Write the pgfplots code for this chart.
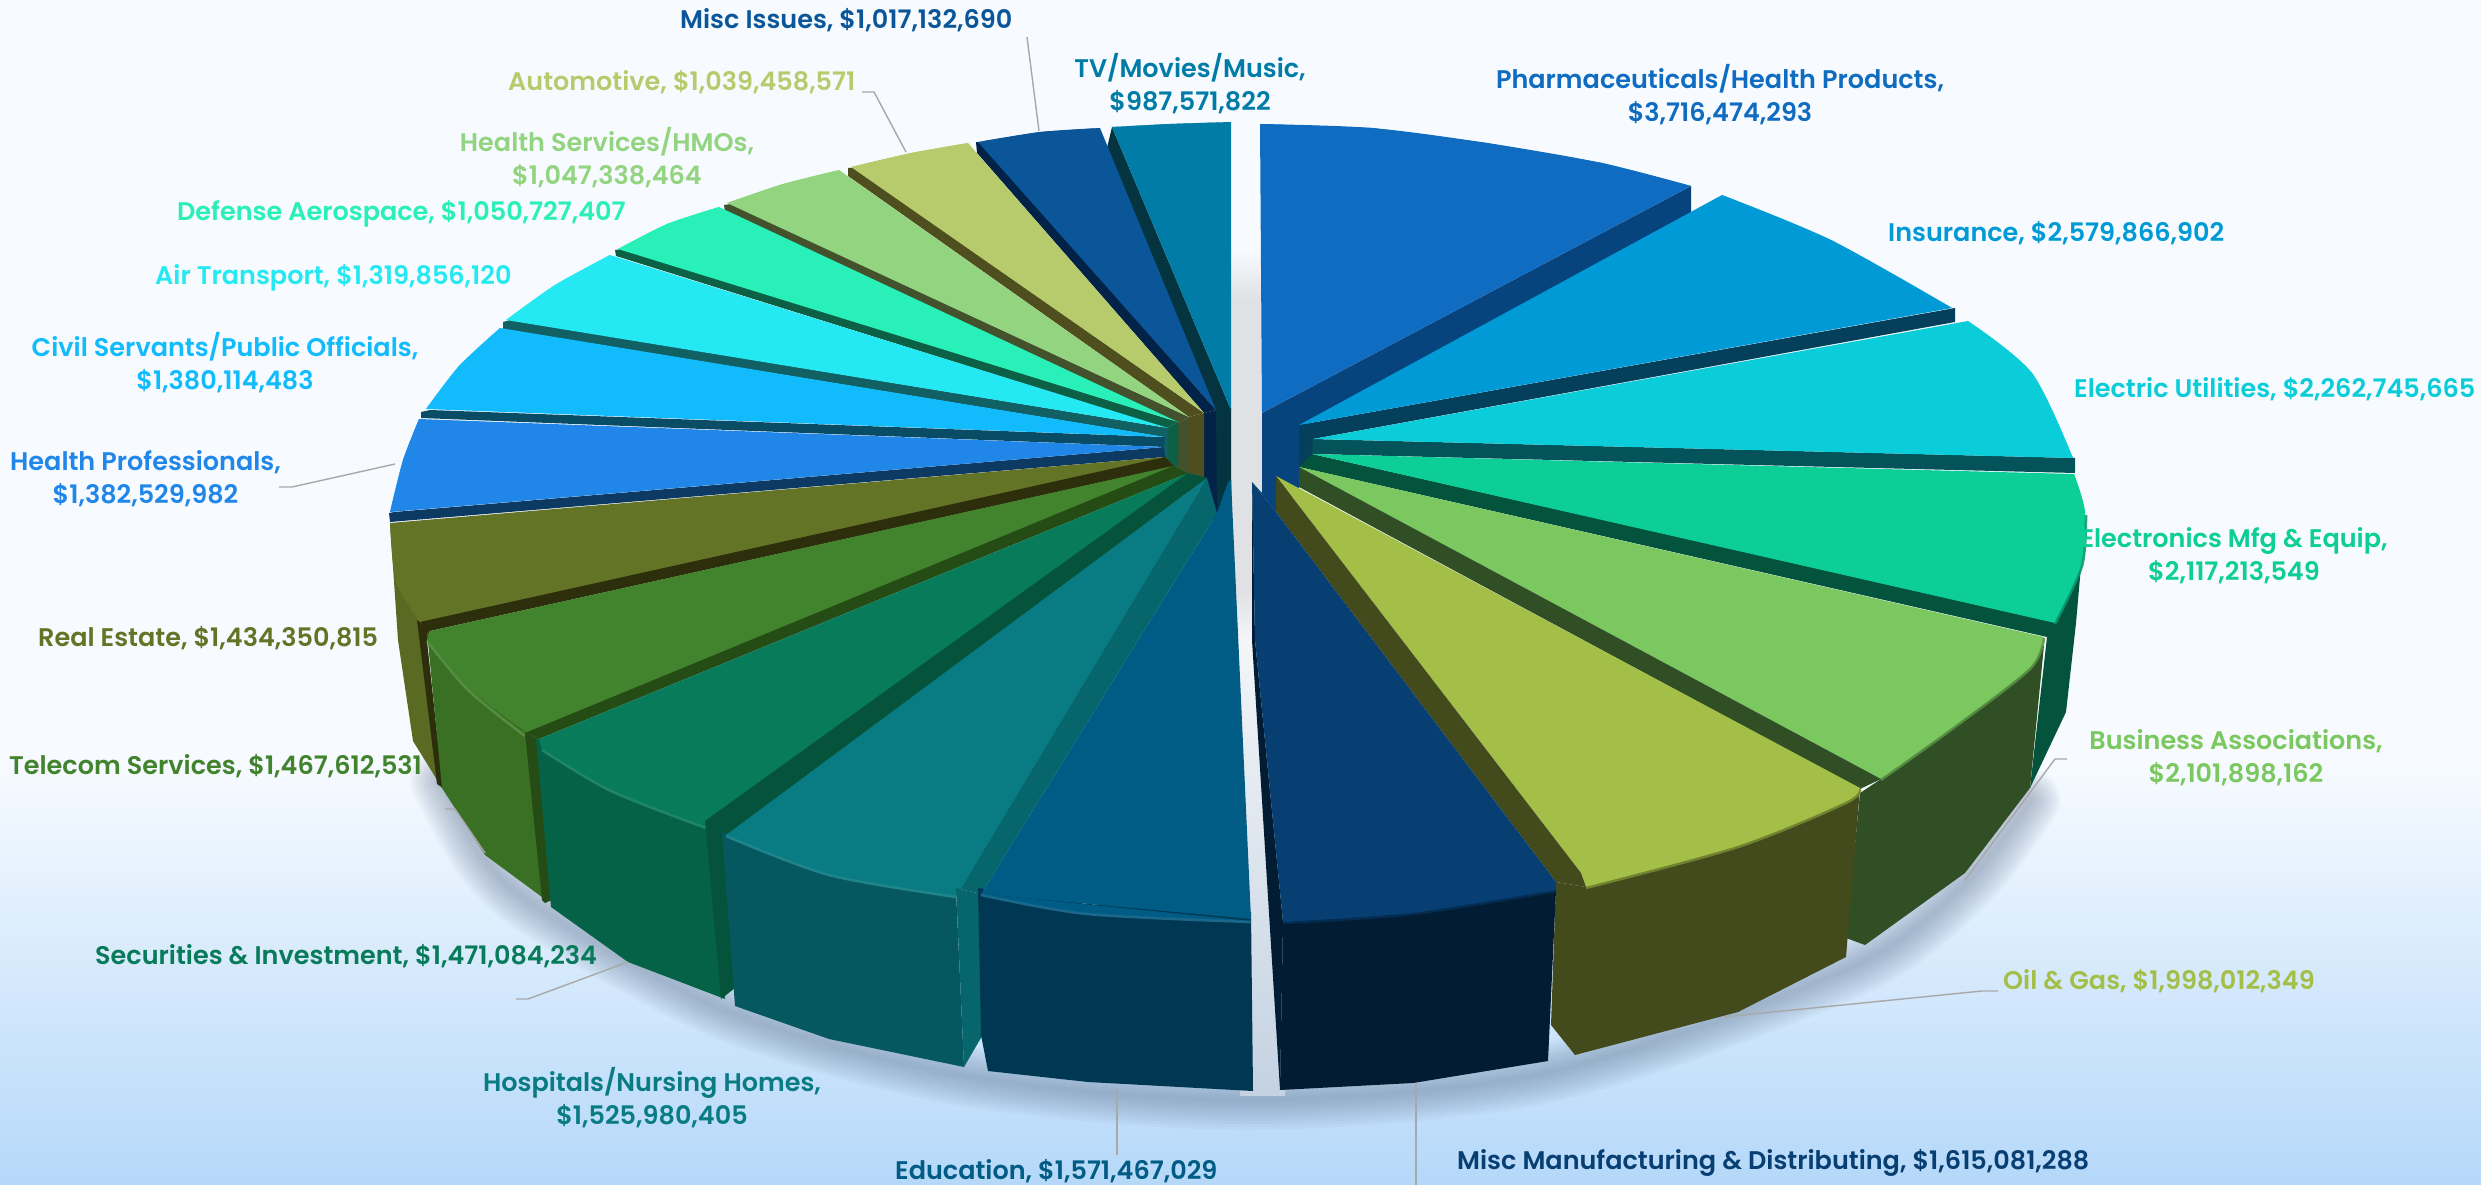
\documentclass[border=0pt]{standalone}
\usepackage{fontspec}
\usepackage{pgfplots}
\pgfplotsset{compat=1.18}
\setmainfont{Poppins}[BoldFont={Poppins SemiBold}]
% face colours
\definecolor{pharma}{HTML}{0F6CC1}\definecolor{insur}{HTML}{009AD6}\definecolor{elec}{HTML}{0BCCD9}
\definecolor{emfg}{HTML}{0ECE97}\definecolor{busi}{HTML}{7AC85F}\definecolor{oil}{HTML}{A4BF48}
\definecolor{mfg}{HTML}{083F73}\definecolor{edu}{HTML}{005C84}\definecolor{hosp}{HTML}{097B83}
\definecolor{secu}{HTML}{077B5A}\definecolor{tele}{HTML}{42832E}\definecolor{real}{HTML}{647427}
\definecolor{hpro}{HTML}{2087E9}\definecolor{civil}{HTML}{12BBFC}\definecolor{air}{HTML}{24E9F2}
\definecolor{defe}{HTML}{29EFB8}\definecolor{hserv}{HTML}{93D480}\definecolor{auto}{HTML}{B7CB6D}
\definecolor{misc}{HTML}{0B5698}\definecolor{tv}{HTML}{007CA7}
% side colours
\definecolor{spharma}{HTML}{07437C}\definecolor{sinsur}{HTML}{04405C}\definecolor{selec}{HTML}{04535A}
\definecolor{semfg}{HTML}{04533C}\definecolor{sbusi}{HTML}{304F24}\definecolor{soil}{HTML}{434B1C}
\definecolor{smfg}{HTML}{021C33}\definecolor{sedu}{HTML}{003853}\definecolor{shosp}{HTML}{055860}
\definecolor{shospb}{HTML}{07666B}\definecolor{ssecu}{HTML}{066247}\definecolor{ssecub}{HTML}{05533A}
\definecolor{stele}{HTML}{3A7024}\definecolor{steleb}{HTML}{264C16}\definecolor{sreal}{HTML}{5A6A22}
\definecolor{srealb}{HTML}{2D2F0C}\definecolor{shpro}{HTML}{0C3A62}\definecolor{scivil}{HTML}{084C66}
\definecolor{sair}{HTML}{116064}\definecolor{sdefe}{HTML}{0B6045}\definecolor{shserv}{HTML}{43522C}
\definecolor{sauto}{HTML}{4E4E1E}\definecolor{smisc}{HTML}{022347}\definecolor{stv}{HTML}{03343F}
\definecolor{leader}{HTML}{A8A8A8}
\definecolor{bgtop}{HTML}{F7FBFF}\definecolor{bgbot}{HTML}{B5D8F9}
\definecolor{gapa}{HTML}{DFE1E4}\definecolor{gapb}{HTML}{F3F5F8}\definecolor{gapc}{HTML}{C4D2E2}
% a flat polygon
\newcommand\poly[2]{\addplot[fill=#1,draw=none] coordinates {#2};}
% a slice top: straight part plus a smooth cap along the rim
\newcommand\face[3]{\addplot[fill=#1,draw=none] coordinates {#2 #3};\addplot[fill=#1,draw=none,smooth] coordinates {#3};}
% a soft edge along a rim
\newcommand\rim[2]{\addplot[draw=#1,line width=2.5pt,smooth,opacity=.85] coordinates {#2};}
\newcommand\leadline[1]{\addplot[draw=leader,line width=1.4pt] coordinates {#1};}
\newcommand\lab[4]{\node[text=#1,anchor=#2,align=center,inner sep=0pt,font=\fontsize{25.5}{33}\selectfont\bfseries] at (axis cs:#3) {#4};}
\begin{document}
\begin{tikzpicture}
\begin{axis}[
  width=2481pt,height=1185pt,scale only axis,
  xmin=0,xmax=2481,ymin=0,ymax=1185,y dir=reverse,
  hide axis,clip=true]
% backdrop
\fill[color=bgtop] (axis cs:0,0) rectangle (axis cs:2481,761);
\fill[top color=bgtop,bottom color=bgbot] (axis cs:0,760) rectangle (axis cs:2481,1185);
% soft shadow under the pie
\pgfplotsinvokeforeach{6,12,18,24,30,36,42,48,54,60}{
 \addplot[draw={rgb,255:red,95;green,115;blue,145},line width=#1pt,opacity=.05,smooth,line cap=round] coordinates {(440,780)(485,860)(545,912)(730,1012)(964,1076)(1250,1100)(1550,1072)(1850,968)(1965,884)(2030,800)};
}
% gap between the first and last slices
\fill[top color=bgtop,bottom color=gapa] (axis cs:1231,250) rectangle (axis cs:1262,300);
\fill[color=gapa] (axis cs:1231,299) rectangle (axis cs:1262,591);
\fill[top color=gapa,bottom color=gapb] (axis cs:1235,590) rectangle (axis cs:1262,640);
\fill[top color=gapb,bottom color=gapc] (axis cs:1240,639) rectangle (axis cs:1285,1095);
% inner walls at the hub
\poly{stv}{(1216,410)(1231,408)(1231,520)(1216,520)}
\poly{smisc}{(1204,413)(1216,410)(1217,520)(1204,520)}
\poly{sauto}{(1189,417)(1204,413)(1204,490)(1189,490)}
\poly{shserv}{(1178,423)(1189,417)(1189,480)(1178,480)}
\poly{sdefe}{(1166,428)(1178,422)(1178,475)(1166,475)}
\poly{sair}{(1164,436)(1168,428)(1168,470)(1164,470)}
% back slices
\poly{stv}{(1112,127)(1107,148)(1216,412)(1231,410)}
\face{tv}{(1231,410)}{(1112,127)(1170,124)(1231,122)}
\poly{smisc}{(976,142)(982,143)(1216,410)(1204,413)(977,153)}
\face{misc}{(1216,410)}{(978,142)(1040,132)(1100,128)}
\poly{sauto}{(848,168)(855,168)(1204,413)(1189,417)(848,176)}
\face{auto}{(1204,413)}{(851,167)(911,153)(968,143)}
\poly{shserv}{(724,205)(731,204)(1189,417)(1178,423)(725,212)}
\face{hserv}{(1189,417)}{(727,203)(783,184)(839,170)}
\poly{sdefe}{(615,250)(622,249)(1178,422)(1166,428)(616,256)}
\face{defe}{(1178,422)}{(618,249)(667,224)(719,207)}
\poly{sair}{(503,322)(510,320)(1168,428)(1164,437)(503,329)}
\face{air}{(1168,428)}{(506,320)(555,285)(610,255)}
\poly{scivil}{(421,412)(430,410)(1165,437)(1164,447)(421,418)}
\face{civil}{(1165,437)}{(426,409)(459,366)(500,328)}
\poly{shpro}{(389,513)(394,512)(1164,447)(1165,457)(390,522)}
\face{hpro}{(1164,447)}{(390,512)(403,460)(419,419)}
% front left slices, walls first
\poly{sreal}{(390,523)(396,582)(420,622)(427,641)(442,788)(413,741)(398,640)}
\face{real}{(1165,457)(1174,466)(428,631)}{(420,622)(396,582)(390,523)}
\poly{srealb}{(1165,457)(1174,466)(430,631)(420,622)}
\poly{srealb}{(417,620)(430,630)(427,642)(443,788)(437,784)}
\poly{stele}{(427,632)(468,680)(530,726)(546,900)(485,855)(442,788)}
\face{tele}{(430,631)(1173,466)(1188,473)(530,735)}{(525,731)(468,688)(427,639)}
\rim{tele!88!white}{(427,641)(468,690)(525,736)}
\poly{steleb}{(1173,466)(1188,473)(539,739)(525,733)}
\poly{steleb}{(525,733)(539,739)(552,900)(545,903)(542,900)}
\poly{ssecu}{(536,738)(611,782)(712,820)(725,999)(628,962)(551,907)}
\face{secu}{(539,739)(1188,473)(1207,478)(712,825)}{(706,827)(611,790)(542,749)}
\rim{secu!88!white}{(542,750)(611,791)(706,828)}
\poly{ssecub}{(1188,473)(1207,478)(727,838)(705,821)}
\poly{ssecub}{(705,821)(727,831)(735,988)(721,999)}
\poly{shosp}{(722,832)(829,865)(956,890)(964,1067)(829,1039)(735,1006)}
\poly{stv}{(1217,513)(1231,480)(1231,520)}
\poly{shospb}{(1207,478)(1217,513)(981,894)(956,888)}
\face{hosp}{(1207,478)(960,890)}{(956,896)(829,874)(726,835)}
\rim{hosp!88!white}{(956,897)(829,875)(726,836)}
\poly{shospb}{(956,888)(981,894)(985,1031)(964,1067)}
\poly{sedu}{(978,888)(1087,904)(1251,912)(1253,1091)(1088,1082)(988,1071)(981,1035)}
\poly{edu}{(1217,513)(1228,482)(1231,480)(1251,919)(981,894)}
\face{edu}{}{(1251,921)(1087,913)(981,894)}
\rim{edu!88!white}{(1251,922)(1087,914)(981,895)}
% right side, back to front
\poly{spharma}{(1691,186)(1691,213)(1299,428)(1299,490)(1276,512)(1262,495)(1252,482)(1262,493)(1262,413)}
\face{pharma}{(1262,413)(1260,124)}{(1260,124)(1372,128)(1487,143)(1602,163)(1691,186)}
\poly{sinsur}{(1299,425)(1955,308)(1955,322)(1313,439)(1313,467)(1299,467)}
\face{insur}{(1299,425)}{(1722,195)(1831,240)(1952,308)}
\poly{selec}{(1313,439)(2075,458)(2075,473)(1312,454)}
\face{elec}{(1313,439)}{(1968,321)(2032,373)(2073,458)}
\poly{semfg}{(1299,467)(1312,454)(2052,621)(2082,565)(2085,520)(2076,623)(2066,712)(2030,788)(2047,637)}
\face{emfg}{(1312,454)}{(2055,623)(2082,565)(2085,512)(2074,474)}
\rim{emfg!55!semfg}{(2055,624)(2082,566)(2086,515)}
\poly{sbusi}{(2044,645)(2030,788)(1965,873)(1865,945)(1846,938)(1860,793)(1881,779)}
\face{busi}{(1299,467)}{(1881,779)(1955,726)(2030,668)(2044,637)}
\rim{busi!55!sbusi}{(1881,780)(1955,727)(2030,669)(2044,638)}
\poly{sbusi}{(1299,467)(1881,779)(1860,789)(1299,487)}
\poly{soil}{(1860,788)(1846,957)(1738,1012)(1575,1055)(1551,1025)(1556,882)(1586,887)}
\face{oil}{(1276,476)(1581,873)}{(1586,887)(1738,846)(1846,802)(1860,788)}
\rim{oil!55!soil}{(1586,888)(1738,847)(1846,803)(1860,789)}
\poly{soil}{(1276,476)(1581,873)(1586,887)(1556,882)(1276,512)}
\poly{smfg}{(1283,922)(1413,913)(1556,890)(1548,1061)(1413,1083)(1280,1090)}
\poly{smfg}{(1252,482)(1252,640)(1280,1090)(1283,922)(1255,640)}
\poly{mfg}{(1252,482)(1262,495)(1276,512)(1556,882)(1556,890)(1413,913)(1283,922)(1255,640)}
\face{mfg}{}{(1556,890)(1413,913)(1283,922)}
\rim{mfg!55!smfg}{(1556,891)(1413,914)(1283,923)}
% leader lines
\leadline{(1027,37)(1039,131)}
\leadline{(862,92)(874,92)(906,152)}
\leadline{(279,487)(292,487)(395,464)}
\leadline{(2067,759)(2055,759)(1965,880)}
\leadline{(1998,991)(1982,991)(1723,1017)}
\leadline{(1416,1083)(1416,1185)}
\leadline{(1117,1089)(1117,1155)}
\leadline{(628,962)(528,999)(516,999)}
\leadline{(445,809)(455,809)(485,853)}
% labels
\lab{misc}{west}{680,20}{Misc Issues, \$1,017,132,690}
\lab{tv}{center}{1190,84}{TV/Movies/Music,\\\$987,571,822}
\lab{pharma}{center}{1720,95}{Pharmaceuticals/Health Products,\\\$3,716,474,293}
\lab{insur}{west}{1888,233}{Insurance, \$2,579,866,902}
\lab{elec}{west}{2074,389}{Electric Utilities, \$2,262,745,665}
\lab{emfg}{center}{2234,556}{Electronics Mfg \& Equip,\\\$2,117,213,549}
\lab{busi}{center}{2236,758}{Business Associations,\\\$2,101,898,162}
\lab{oil}{west}{2003,981}{Oil \& Gas, \$1,998,012,349}
\lab{mfg}{west}{1457,1163}{Misc Manufacturing \& Distributing, \$1,615,081,288}
\lab{edu}{west}{895,1171}{Education, \$1,571,467,029}
\lab{hosp}{center}{652,1098}{Hospitals/Nursing Homes,\\\$1,525,980,405}
\lab{secu}{west}{95,956}{Securities \& Investment, \$1,471,084,234}
\lab{tele}{west}{9,766}{Telecom Services, \$1,467,612,531}
\lab{real}{west}{38,638}{Real Estate, \$1,434,350,815}
\lab{hpro}{west}{10,479}{Health Professionals,\\\$1,382,529,982}
\lab{civil}{center}{225,363}{Civil Servants/Public Officials,\\\$1,380,114,483}
\lab{air}{west}{155,278}{Air Transport, \$1,319,856,120}
\lab{defe}{west}{177,214}{Defense Aerospace, \$1,050,727,407}
\lab{hserv}{center}{607,158}{Health Services/HMOs,\\\$1,047,338,464}
\lab{auto}{west}{508,82}{Automotive, \$1,039,458,571}
\end{axis}
\end{tikzpicture}
\end{document}
